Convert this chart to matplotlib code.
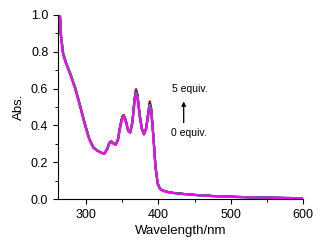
import matplotlib
matplotlib.use("Agg")
import matplotlib.pyplot as plt
from matplotlib.ticker import MultipleLocator

plt.rcParams['font.family'] = ['Liberation Sans', 'DejaVu Sans']

# wavelength grid (nm)
wl = [263, 265, 268, 272, 278, 285, 292, 298, 304, 310, 316, 321, 325, 329, 332,
      335, 338, 341, 344, 347, 350, 352, 355, 358, 361, 364, 367, 369, 371, 374,
      377, 380, 383, 386, 388, 390, 393, 396, 399, 402, 406, 412, 420, 435, 450,
      475, 500, 550, 600]

# absorbance for 0..5 equiv
abs_0 = [1.05, 0.89, 0.79, 0.74, 0.68, 0.60, 0.50, 0.41, 0.33, 0.28, 0.262, 0.252, 0.247, 0.272, 0.307,
         0.313, 0.302, 0.297, 0.325, 0.395, 0.447, 0.455, 0.425, 0.375, 0.365, 0.42, 0.545, 0.59, 0.565,
         0.46, 0.385, 0.355, 0.385, 0.47, 0.525, 0.49, 0.345, 0.175, 0.085, 0.058, 0.047, 0.040, 0.034,
         0.028, 0.023, 0.017, 0.013, 0.008, 0.005]
abs_1 = [1.05, 0.89, 0.79, 0.74, 0.68, 0.60, 0.50, 0.41, 0.33, 0.28, 0.262, 0.252, 0.247, 0.272, 0.308,
         0.314, 0.303, 0.298, 0.326, 0.397, 0.449, 0.457, 0.427, 0.376, 0.366, 0.422, 0.55, 0.598, 0.57,
         0.462, 0.386, 0.356, 0.387, 0.474, 0.532, 0.495, 0.347, 0.176, 0.085, 0.058, 0.047, 0.040, 0.034,
         0.028, 0.023, 0.017, 0.013, 0.008, 0.005]
abs_2 = [1.05, 0.89, 0.79, 0.74, 0.68, 0.60, 0.50, 0.41, 0.33, 0.28, 0.262, 0.252, 0.247, 0.271, 0.306,
         0.312, 0.301, 0.296, 0.323, 0.393, 0.445, 0.453, 0.423, 0.373, 0.363, 0.418, 0.54, 0.584, 0.56,
         0.457, 0.383, 0.353, 0.383, 0.466, 0.518, 0.486, 0.342, 0.174, 0.084, 0.057, 0.046, 0.039, 0.034,
         0.028, 0.023, 0.017, 0.013, 0.008, 0.005]
abs_3 = [1.05, 0.89, 0.79, 0.74, 0.68, 0.60, 0.50, 0.41, 0.33, 0.28, 0.262, 0.252, 0.247, 0.271, 0.306,
         0.312, 0.301, 0.296, 0.322, 0.391, 0.443, 0.451, 0.421, 0.372, 0.362, 0.415, 0.536, 0.578, 0.556,
         0.455, 0.382, 0.352, 0.382, 0.463, 0.512, 0.482, 0.34, 0.173, 0.084, 0.057, 0.046, 0.039, 0.033,
         0.027, 0.022, 0.016, 0.012, 0.007, 0.004]
abs_4 = [1.05, 0.90, 0.80, 0.745, 0.685, 0.605, 0.505, 0.415, 0.332, 0.281, 0.263, 0.253, 0.247, 0.270, 0.304,
         0.311, 0.300, 0.295, 0.320, 0.389, 0.441, 0.449, 0.419, 0.371, 0.361, 0.412, 0.532, 0.574, 0.553,
         0.453, 0.381, 0.351, 0.381, 0.46, 0.506, 0.478, 0.337, 0.172, 0.083, 0.056, 0.046, 0.039, 0.033,
         0.027, 0.022, 0.016, 0.012, 0.007, 0.004]
abs_5 = [1.05, 0.88, 0.785, 0.735, 0.675, 0.595, 0.495, 0.405, 0.325, 0.277, 0.260, 0.250, 0.245, 0.269, 0.303,
         0.31, 0.299, 0.294, 0.318, 0.386, 0.438, 0.447, 0.417, 0.37, 0.36, 0.41, 0.527, 0.568, 0.548,
         0.45, 0.379, 0.35, 0.379, 0.456, 0.498, 0.472, 0.333, 0.17, 0.082, 0.056, 0.045, 0.038, 0.033,
         0.027, 0.022, 0.016, 0.012, 0.007, 0.004]

series = [abs_0, abs_1, abs_2, abs_3, abs_4, abs_5]
colors = ['black', 'red', 'blue', '#00c8c8', '#00c000', '#ff00ff']

fig = plt.figure(figsize=(3.26, 2.44), dpi=100)
ax = fig.add_axes([0.178, 0.184, 0.751, 0.755])

for y, c in zip(series, colors):
    ax.plot(wl, y, color=c, lw=1.5)

ax.set_xlim(261, 600)
ax.set_ylim(0, 1.0)
ax.xaxis.set_major_locator(MultipleLocator(100))
ax.xaxis.set_minor_locator(MultipleLocator(50))
ax.yaxis.set_major_locator(MultipleLocator(0.2))
ax.yaxis.set_minor_locator(MultipleLocator(0.1))
ax.yaxis.set_major_formatter(plt.FormatStrFormatter('%.1f'))

for s in ['top', 'right']:
    ax.spines[s].set_visible(False)
for s in ['left', 'bottom']:
    ax.spines[s].set_linewidth(0.8)
ax.tick_params(which='major', length=3.5, width=0.8, labelsize=9, direction='out')
ax.tick_params(which='minor', length=2, width=0.7, direction='out')

ax.set_xlabel('Wavelength/nm', fontsize=9.5, labelpad=3)
ax.set_ylabel('Abs.', fontsize=9.5, labelpad=4)

ax.text(444, 0.60, '5 equiv.', fontsize=7.5, ha='center', va='center')
ax.text(442, 0.357, '0 equiv.', fontsize=7.5, ha='center', va='center')
ax.annotate('', xy=(435, 0.545), xytext=(435, 0.40),
            arrowprops=dict(arrowstyle='-|>', color='black', lw=0.9, mutation_scale=6))

fig.savefig('out.png', dpi=100)
